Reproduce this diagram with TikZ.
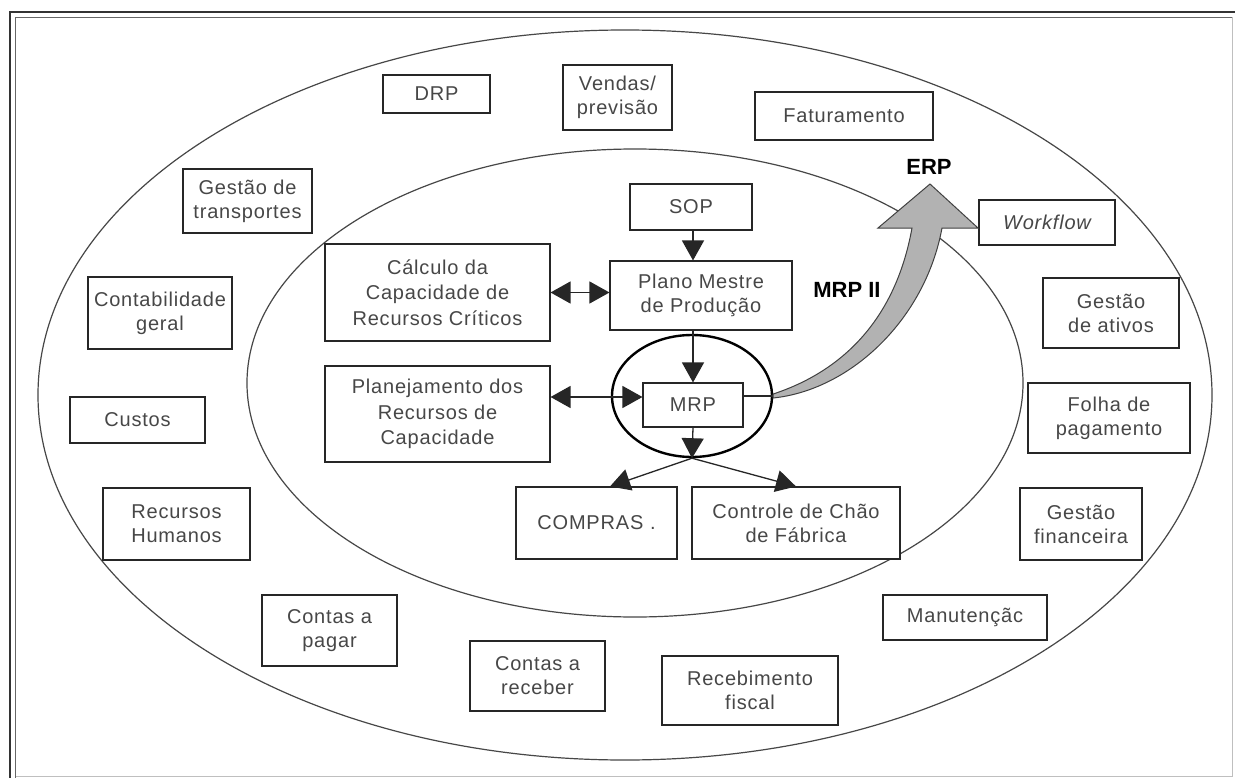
\documentclass[tikz,border=0pt]{standalone}
\usepackage{fontspec}
\setmainfont{Liberation Sans}
\newfontfamily\boxfont{Liberation Sans}[LetterSpace=4]
\usetikzlibrary{arrows.meta,calc,shapes.geometric}
\begin{document}
\begin{tikzpicture}[x=1bp,y=-1bp,
  box/.style={draw=black!85, line width=1.1bp, fill=white, inner sep=1bp, text=black!72,
    font=\boxfont\fontsize{20bp}{24bp}\selectfont, align=center},
  ell/.style={draw=black!72, line width=1.2bp},
  conn/.style={draw=black!85, line width=1.3bp},
  arrowend/.style={-{Triangle[length=20bp,width=22bp]}},
  arrowboth/.style={{Triangle[length=20bp,width=22bp]}-{Triangle[length=20bp,width=22bp]}},
  lbl/.style={font=\bfseries\fontsize{22bp}{24bp}\selectfont, text=black, inner sep=0pt}]
\useasboundingbox (0,0) rectangle (1235,778);
\fill[white] (0,0) rectangle (1235,778);
% frame
\draw[black!80, line width=1.6bp] (10,778) -- (10,12) -- (1235,12);
\draw[black!60, line width=0.9bp] (15.5,778) -- (15.5,17.5) -- (1232,17.5);
\draw[black!25, line width=1bp] (1232,17.5) -- (1232,776.5) -- (15.5,776.5);
% ellipses
\draw[ell] (625,395) ellipse [x radius=587bp, y radius=365bp];
\draw[ell] (635,383) ellipse [x radius=388bp, y radius=234bp];
% outer boxes
\node[box, minimum width=107bp, minimum height=38bp] (drp) at (436.5,94) {DRP};
\node[box, minimum width=109bp, minimum height=65bp] (vendas) at (617.5,97.5) {Vendas/\\previsão};
\node[box, minimum width=178bp, minimum height=48bp] (fat) at (844,116) {Faturamento};
\node[box, minimum width=129bp, minimum height=64bp] (gt) at (247.5,201) {Gestão de\\transportes};
\node[box, minimum width=136bp, minimum height=45bp] (wf) at (1047,222.5) {\itshape Workflow};
\node[box, minimum width=144bp, minimum height=72bp] (cg) at (160,313) {Contabilidade\\geral};
\node[box, minimum width=136bp, minimum height=70bp] (ga) at (1111,313) {Gestão\\de ativos};
\node[box, minimum width=135bp, minimum height=46bp] (custos) at (137.5,420) {Custos};
\node[box, minimum width=162bp, minimum height=70bp] (folha) at (1109,418) {Folha de\\pagamento};
\node[box, minimum width=147bp, minimum height=72bp] (rh) at (176.5,524) {Recursos\\Humanos};
\node[box, minimum width=122bp, minimum height=72bp] (gf) at (1081,524) {Gestão\\financeira};
\node[box, minimum width=135bp, minimum height=71bp] (cp) at (329.5,630.5) {Contas a\\pagar};
\node[box, minimum width=164bp, minimum height=45bp] (man) at (965,617.5) {Manutençãc};
\node[box, minimum width=135bp, minimum height=70bp] (cr) at (537.5,676) {Contas a\\receber};
\node[box, minimum width=176bp, minimum height=69bp] (rf) at (750,690.5) {Recebimento\\fiscal};
% inner boxes
\node[box, minimum width=122bp, minimum height=46bp] (sop) at (691,207) {SOP};
\node[box, minimum width=225bp, minimum height=97bp, font=\boxfont\fontsize{20bp}{25.5bp}\selectfont] (calc) at (437.5,292.5) {Cálculo da\\Capacidade de\\Recursos Críticos};
\node[box, minimum width=182bp, minimum height=69bp] (plano) at (701,295.5) {Plano Mestre\\de Produção};
\node[box, minimum width=225bp, minimum height=96bp, font=\boxfont\fontsize{20bp}{25.5bp}\selectfont] (plan) at (437.5,414) {Planejamento dos\\Recursos de\\Capacidade};
\node[box, minimum width=100bp, minimum height=44bp] (mrp) at (693,405) {MRP};
\node[box, minimum width=161bp, minimum height=72bp] (compras) at (596.5,523) {COMPRAS\,\,.};
\node[box, minimum width=208bp, minimum height=72bp] (ccf) at (796,523) {Controle de Chão\\de Fábrica};
% MRP ellipse
\node[draw=black, line width=2.4bp, ellipse, minimum width=160bp, minimum height=122bp, inner sep=0pt] (mrpell) at (692,396) {};
% connectors
\draw[conn, arrowend] (sop.south -| 693,0) -- (plano.north -| 693,0);
\draw[conn, arrowboth] (calc.east) -- (calc.east -| plano.west);
\draw[conn, arrowend] (plano.south -| 693,0) -- (mrp.north -| 693,0);
\draw[conn, arrowboth] (plan.east |- 0,397) -- (mrp.west |- 0,397);
\draw[conn, arrowend] (mrp.south) -- (mrpell.south);
\draw[conn, arrowend] (mrpell.south) -- ($(compras.north)+(13.5,0)$);
\draw[conn, arrowend] (mrpell.south) -- (ccf.north);
\draw[conn] (mrp.east |- mrpell.center) -- (mrpell.east);
% ERP arrow
\filldraw[fill=black!30, draw=black!75, line width=1bp]
  ($(mrpell.east)+(0,-2)$) .. controls (840,372) and (895,322) .. (912,228)
  -- (878,228) -- (930,184) -- (978,228) -- (942,228)
  .. controls (925,320) and (850,390) .. ($(mrpell.east)+(0,2)$) -- cycle;
% labels
\node[lbl] (mrpii) at (847,290) {MRP II};
\node[lbl] (erp) at (929,167) {ERP};
\end{tikzpicture}
\end{document}
